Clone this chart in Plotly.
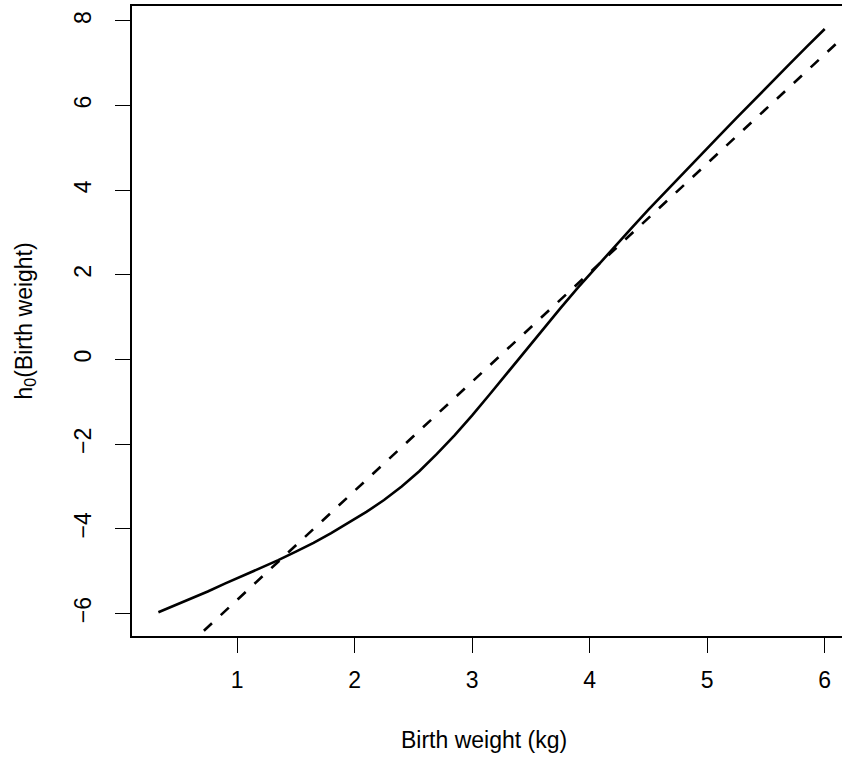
import plotly.graph_objects as go

# Solid curve: estimated h0(birth weight)
weight_kg = [0.33, 0.45, 0.60, 0.75, 0.90, 1.05, 1.20, 1.35, 1.50, 1.65, 1.80, 1.95,
             2.10, 2.25, 2.40, 2.55, 2.70, 2.85, 3.00, 3.15, 3.30, 3.45, 3.60, 3.75,
             3.90, 4.05, 4.20, 4.35, 4.50, 4.65, 4.80, 4.95, 5.10, 5.25, 5.40, 5.55,
             5.70, 5.85, 6.00]
h0_values = [-5.97, -5.83, -5.66, -5.48, -5.29, -5.11, -4.93, -4.74, -4.54, -4.33, -4.10, -3.86,
             -3.60, -3.32, -3.00, -2.64, -2.23, -1.79, -1.32, -0.82, -0.31, 0.20, 0.71, 1.21,
             1.70, 2.17, 2.63, 3.09, 3.54, 3.98, 4.42, 4.85, 5.28, 5.71, 6.14, 6.56,
             6.98, 7.40, 7.81]

# Dashed reference line (intercept, slope)
ref_intercept = -8.257
ref_slope = 2.578
ref_x = [0.0, 6.5]
ref_y = [ref_intercept + ref_slope * v for v in ref_x]

x_tickvals = [1, 2, 3, 4, 5, 6]
x_ticktext = ["1", "2", "3", "4", "5", "6"]
y_tickvals = [-6, -4, -2, 0, 2, 4, 6, 8]
y_ticktext = ["\u22126", "\u22124", "\u22122", "0", "2", "4", "6", "8"]

FONT = "Liberation Sans, Arial, Helvetica, sans-serif"

fig = go.Figure()
fig.add_trace(go.Scatter(x=weight_kg, y=h0_values, mode="lines",
                         line=dict(color="black", width=2.6, shape="linear"),
                         showlegend=False, hoverinfo="skip"))
fig.add_trace(go.Scatter(x=ref_x, y=ref_y, mode="lines",
                         line=dict(color="black", width=2.6, dash="11px,12px"),
                         showlegend=False, hoverinfo="skip"))

W, H = 842, 758
ml, mt, mb, mr = 131.5, 6, 122, 0

fig.update_layout(
    width=W, height=H,
    margin=dict(l=ml, r=mr, t=mt, b=mb, pad=0),
    paper_bgcolor="white", plot_bgcolor="white",
    font=dict(family=FONT, size=23, color="black"),
    xaxis=dict(range=[0.1054, 6.147], tickvals=x_tickvals, ticktext=x_ticktext,
               showgrid=False, zeroline=False, showline=True, linecolor="black",
               linewidth=2, mirror=True, ticks="outside", ticklen=15, tickwidth=1.3,
               tickcolor="black", ticklabelstandoff=7,
               tickfont=dict(family=FONT, size=23, color="black")),
    yaxis=dict(range=[-6.532, 8.354], tickvals=y_tickvals, ticktext=y_ticktext,
               showgrid=False, zeroline=False, showline=True, linecolor="black",
               linewidth=2, mirror=False, ticks="outside", ticklen=15, tickwidth=1.3,
               tickcolor="black", tickangle=-90, ticklabelstandoff=15,
               tickfont=dict(family=FONT, size=23, color="black")),
    annotations=[
        dict(text="Birth weight (kg)", xref="paper", yref="paper",
             x=(484 - ml) / (W - ml - mr), y=-(740 - (H - mb)) / (H - mt - mb),
             xanchor="center", yanchor="middle", showarrow=False,
             font=dict(family=FONT, size=23, color="black")),
        dict(text="h<sub>0</sub>(Birth weight)", xref="paper", yref="paper",
             x=-(ml - 24) / (W - ml - mr), y=0.5, textangle=-90,
             xanchor="center", yanchor="middle", showarrow=False,
             font=dict(family=FONT, size=23, color="black")),
    ],
)

fig.write_html("out.html")
